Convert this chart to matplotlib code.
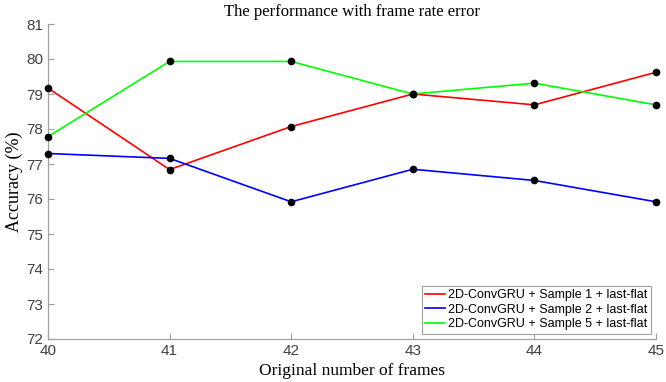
import matplotlib.pyplot as plt

# accuracy for each frame count
frames = [40, 41, 42, 43, 44, 45]
sample1 = [79.17, 76.84, 78.07, 79.0, 78.69, 79.62]
sample2 = [77.30, 77.16, 75.92, 76.85, 76.53, 75.92]
sample5 = [77.78, 79.93, 79.93, 79.0, 79.31, 78.69]
labels = ['2D-ConvGRU + Sample 1 + last-flat',
          '2D-ConvGRU + Sample 2 + last-flat',
          '2D-ConvGRU + Sample 5 + last-flat']
colors = ['#ff0000', '#0000ff', '#00ff00']

fig = plt.figure(figsize=(6.66, 3.82), dpi=100)
ax = fig.add_axes([48/666, 1 - 339/382, 608/666, 315/382])

for ys, lab, col in zip([sample1, sample2, sample5], labels, colors):
    ax.plot(frames, ys, color=col, lw=1.2, label=lab)
for ys in [sample1, sample2, sample5]:
    ax.plot(frames, ys, 'o', color='black', ms=4.5, zorder=5, clip_on=False)

ax.set_xlim(40, 45)
ax.set_ylim(72, 81)
ax.set_xticks(frames)
ax.set_yticks(range(72, 82))

for s in ['top', 'right']:
    ax.spines[s].set_visible(False)
for s in ['left', 'bottom']:
    ax.spines[s].set_color('#a0a0a0')
    ax.spines[s].set_linewidth(0.9)
ax.tick_params(direction='in', colors='#a0a0a0', length=4, labelcolor='#404040')
for t in ax.get_xticklabels() + ax.get_yticklabels():
    t.set_fontfamily('Liberation Sans')
    t.set_fontsize(11)

ax.set_title('The performance with frame rate error', family='Liberation Serif',
             fontsize=12, pad=6)
ax.set_xlabel('Original number of frames', family='Liberation Serif', fontsize=12.5, labelpad=4)
ax.set_ylabel('Accuracy (%)', family='Liberation Serif', fontsize=13, labelpad=2)

leg = ax.legend(loc='lower right', prop={'family': 'Liberation Sans', 'size': 9},
                fancybox=False, edgecolor='#a0a0a0', framealpha=1,
                handlelength=1.6, handletextpad=0.2, borderpad=0.3,
                labelspacing=0.2, borderaxespad=0.4)
leg.get_frame().set_linewidth(0.8)

fig.savefig('out.png', dpi=100)
